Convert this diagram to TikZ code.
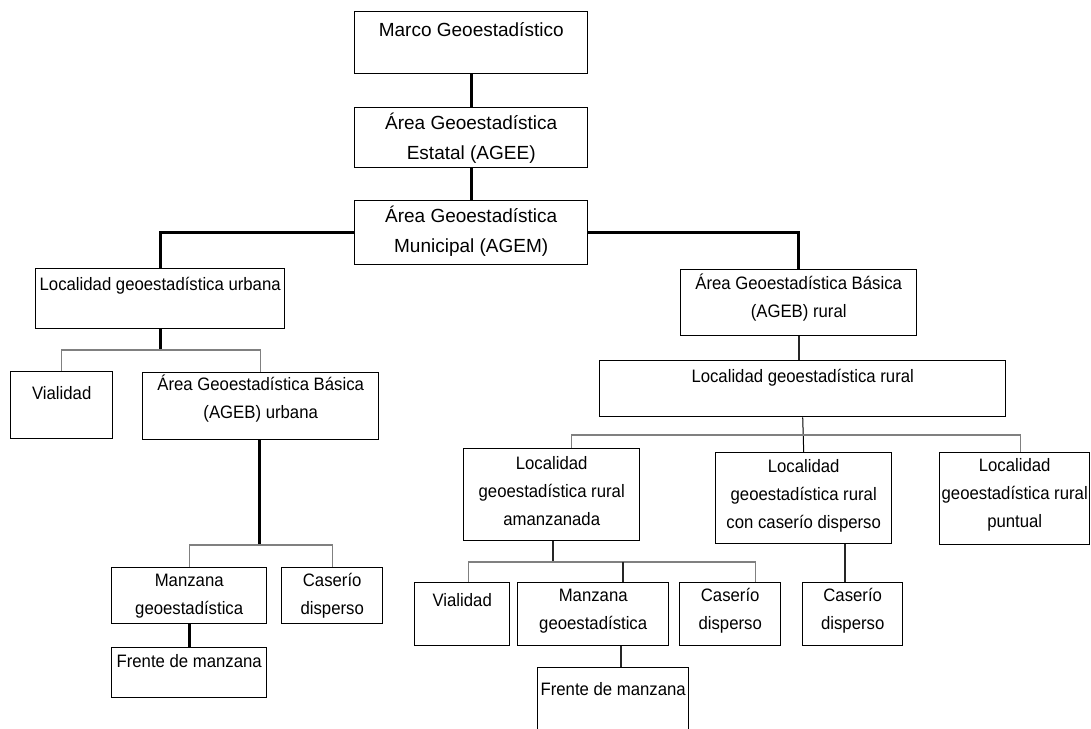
\documentclass[tikz,border=0pt]{standalone}
\usepackage{fontspec}
\setmainfont{Liberation Sans}
\newfontfamily\narrowsans{Liberation Sans}[FakeStretch=0.93]
\usetikzlibrary{positioning}

\tikzset{
  box/.style 2 args={draw, line width=1.4pt, anchor=north west, inner sep=0pt,
    minimum width=#1, minimum height=#2},
  big/.style={anchor=north, inner sep=0pt, align=center,
    font=\fontsize{19}{30}\selectfont},
  txt/.style={anchor=north, inner sep=0pt, align=center,
    font=\narrowsans\fontsize{18}{28}\selectfont},
  stem/.style={line width=3pt},
  mstem/.style={line width=2pt, black!85},
  thinstem/.style={line width=1pt},
  branch/.style={line width=1.2pt, black!50}
}

\begin{document}
\begin{tikzpicture}[x=1pt,y=-1pt]
  \clip (0,0) rectangle (1091,728);

  % upper chain
  \node[box={233pt}{62pt}] (marco)   at (354,11)  {};
  \node[box={233pt}{60pt}] (estatal) at (354,107) {};
  \node[box={233pt}{64pt}] (munic)   at (354,200) {};
  \node[big, below=4pt of marco.north]   (marcot)   {\strut Marco Geoestadístico};
  \node[big, below=1pt of estatal.north] (estatalt) {\strut Área Geoestadística\\Estatal (AGEE)};
  \node[big, below=1pt of munic.north]   (munict)   {\strut Área Geoestadística\\Municipal (AGEM)};

  % urban side
  \node[box={249pt}{60pt}] (locu)    at (35,268)  {};
  \node[box={102pt}{67pt}] (vial1)   at (10,371)  {};
  \node[box={236pt}{67pt}] (agebu)   at (142,372) {};
  \node[box={155pt}{56pt}] (manz1)   at (111,567) {};
  \node[box={101pt}{56pt}] (caso1)   at (281,567) {};
  \node[box={155pt}{50pt}] (frente1) at (111,647) {};
  \node[txt, below=3pt of locu.north]     (locut)     {\strut Localidad geoestadística urbana};
  \node[txt, below=9pt of vial1.north]    (vial1t)    {\strut Vialidad};
  \node[txt, below=-1pt of agebu.north]   (agebut)    {\strut Área Geoestadística Básica\\(AGEB) urbana};
  \node[txt, below=-0.5pt of manz1.north] (manz1t)    {\strut Manzana\\geoestadística};
  \node[txt, below=-0.5pt of caso1.north] (caso1t)    {\strut Caserío\\disperso};
  \node[txt, below=0.5pt of frente1.north] (frente1t) {\strut Frente de manzana};

  % rural side
  \node[box={236pt}{66pt}] (agebr)   at (680,269) {};
  \node[box={406pt}{56pt}] (locr)    at (599,360) {};
  \node[box={176pt}{92pt}] (amz)     at (463,448) {};
  \node[box={176pt}{91pt}] (cas)     at (715,452) {};
  \node[box={150pt}{92pt}] (punt)    at (939,452) {};
  \node[box={95pt}{63pt}]  (vial2)   at (414,582) {};
  \node[box={151pt}{63pt}] (manz2)   at (517,582) {};
  \node[box={101pt}{63pt}] (caso2)   at (679,582) {};
  \node[box={100pt}{63pt}] (caso3)   at (802,582) {};
  \node[box={151pt}{70pt}] (frente2) at (537,667) {};
  \node[txt, below=0.5pt of agebr.north]  (agebrt)   {\strut Área Geoestadística Básica\\(AGEB) rural};
  \node[txt, below=3pt of locr.north]     (locrt)    {\strut Localidad geoestadística rural};
  \node[txt, below=1.5pt of amz.north]    (amzt)     {\strut Localidad\\geoestadística rural\\amanzanada};
  \node[txt, below=0.5pt of cas.north]    (cast)     {\strut Localidad\\geoestadística rural\\con caserío disperso};
  \node[txt, below=-0.5pt of punt.north]  (puntt)    {\strut Localidad\\geoestadística rural\\puntual};
  \node[txt, below=5pt of vial2.north]    (vial2t)   {\strut Vialidad};
  \node[txt, below=-0.5pt of manz2.north] (manz2t)   {\strut Manzana\\geoestadística};
  \node[txt, below=-0.5pt of caso2.north] (caso2t)   {\strut Caserío\\disperso};
  \node[txt, below=-0.5pt of caso3.north] (caso3t)   {\strut Caserío\\disperso};
  \node[txt, below=9pt of frente2.north]  (frente2t) {\strut Frente de manzana};

  % joints of the branch lines
  \coordinate (b1) at (160,350);
  \coordinate (b2) at (259,545);
  \coordinate (b3) at (802,435);
  \coordinate (b4) at (553,562);

  % upper chain
  \draw[stem] (marco.south)   -- (estatal.north);
  \draw[stem] (estatal.south) -- (munic.north);
  \draw[stem] (munic.west)    -| (locu.north);
  \draw[stem] (munic.east)    -| (agebr.north);
  % urban
  \draw[stem]   (locu.south) -- (locu.south |- b1);
  \draw[branch] (vial1.north) |- (b1) -| (agebu.north);
  \draw[stem]   (agebu.south -| b2) -- (b2);
  \draw[branch] (manz1.north) |- (b2) -| (caso1.north);
  \draw[stem]   (manz1.south) -- (frente1.north);
  % rural
  \draw[mstem]    (agebr.south) -- (agebr.south |- locr.north);
  \draw[thinstem] (locr.south)  -- (cas.north);
  \draw[branch]   ([xshift=20pt]amz.north) |- (b3) -| ([xshift=6pt]punt.north);
  \draw[mstem]    (amz.south -| b4) -- (b4);
  \draw[branch]   ([xshift=6pt]vial2.north) |- (b4) -| ([xshift=25pt]caso2.north);
  \draw[mstem]    ([xshift=30pt]manz2.north) -- ([xshift=30pt]manz2.north |- b4);
  \draw[mstem]    ([xshift=28pt]manz2.south) -- ([xshift=28pt]manz2.south |- frente2.north);
  \draw[mstem]    ([xshift=41pt]cas.south)   -- ([xshift=41pt]cas.south |- caso3.north);
\end{tikzpicture}
\end{document}
